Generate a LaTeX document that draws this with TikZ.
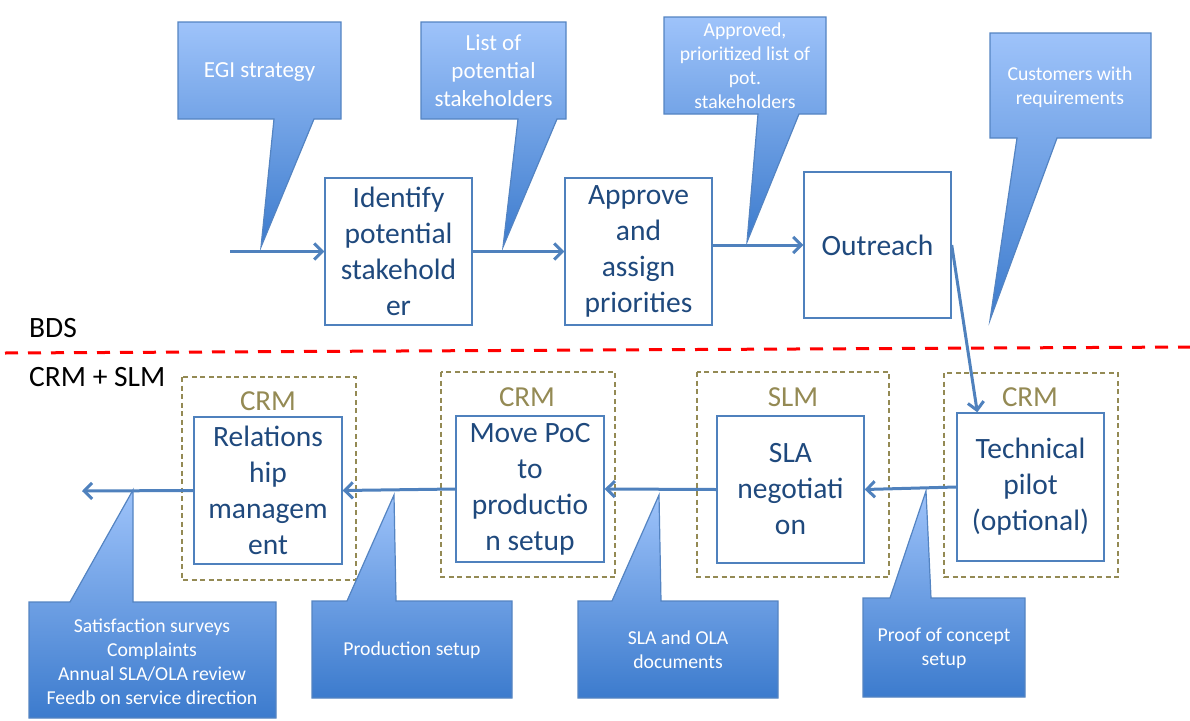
\documentclass[tikz,border=0pt]{standalone}
\usepackage{fontspec}
\setmainfont{Carlito}
\usetikzlibrary{arrows.meta,calc}
\definecolor{boxline}{RGB}{79,129,189}
\definecolor{boxtext}{RGB}{31,73,125}
\definecolor{olivegrp}{RGB}{148,138,84}
\definecolor{calltop}{RGB}{158,195,250}
\definecolor{callbot}{RGB}{60,123,205}
\definecolor{callline}{RGB}{84,132,194}
\begin{document}
\begin{tikzpicture}[x=1pt,y=-1pt,
  procbox/.style={draw=boxline, line width=1.4pt, fill=white, minimum width=147pt, minimum height=147pt, align=center, text=boxtext, font=\fontsize{29.5}{36}\selectfont, inner sep=0pt},
  grp/.style={draw=olivegrp, line width=1.3pt, dash pattern=on 5pt off 3.5pt},
  grplabel/.style={text=olivegrp, font=\fontsize{29}{35}\selectfont, inner sep=0pt},
  flow/.style={draw=boxline, line width=3pt, -{Straight Barb[length=8pt,width=16pt]}},
  callout/.style={top color=calltop, bottom color=callbot, draw=callline, line width=1.2pt, line join=miter},
  calltext/.style={text=white, align=center, inner sep=0pt},
  bigcall/.style={calltext, font=\fontsize{23}{28}\selectfont},
  smallcall/.style={calltext, font=\fontsize{19.7}{24}\selectfont},
  lane/.style={font=\fontsize{29.5}{36}\selectfont, anchor=west, inner sep=0pt}
]
\useasboundingbox (0,0) rectangle (1190,720);

% lane separator and labels
\coordinate (rl) at (5,353);
\coordinate (rr) at (1190,347);
\draw[red, line width=3pt, dash pattern=on 13pt off 10pt] (rl) -- (rr);
\node[lane] (bds) at (29,328) {BDS};
\node[lane] (crmslm) at (29,377) {CRM + SLM};

% group frames
\draw[grp] (182,377) rectangle (356,580);
\draw[grp] (441,372) rectangle (615,577);
\draw[grp] (697,372) rectangle (889,577);
\draw[grp] (944,373) rectangle (1118,577);
\node[grplabel] (g1) at (268,401) {CRM};
\node[grplabel] (g2) at (527,397) {CRM};
\node[grplabel] (g3) at (793,397) {SLM};
\node[grplabel] (g4) at (1030,397) {CRM};

% process boxes
\node[procbox] (id) at (398.5,251.5) {Identify\\potential\\stakehold\\er};
\node[procbox] (ap) at (638.5,251.5) {Approve\\and\\assign\\priorities};
\node[procbox, minimum height=146pt] (out) at (877.5,245) {Outreach};
\node[procbox, minimum width=148pt] (rel) at (268,490.5) {Relations\\hip\\managem\\ent};
\node[procbox, minimum width=148pt, minimum height=146pt] (mov) at (530,489) {Move PoC\\to\\productio\\n setup};
\node[procbox] (sla) at (790.5,489.5) {SLA\\negotiati\\on};
\node[procbox, minimum height=148pt] (tec) at (1030.5,487) {Technical\\pilot\\(optional)};

% connectors
\coordinate (start) at (230,251.5);
\coordinate (finish) at (82,491);
\draw[flow] (start) -- (id.west);
\draw[flow] (id.east) -- (ap.west);
\draw[flow] (ap.east |- out.west) -- (out.west);
\draw[flow] (out.east) -- ([xshift=21pt]tec.north west);
\draw[flow] (tec.west) -- (sla.east);
\draw[flow] (sla.west) -- (mov.east);
\draw[flow] (mov.west) -- (rel.east);
\draw[flow] (rel.west) -- (finish);

% top callouts
\path[callout] (178,22) -- (341,22) -- (341,119) -- (314,119) -- (261,247) -- (274,119) -- (178,119) -- cycle;
\node[bigcall] (c1) at (259.5,72) {EGI strategy};
\path[callout] (421,22) -- (566,22) -- (566,119) -- (557,119) -- (503,247) -- (518,119) -- (421,119) -- cycle;
\node[bigcall] (c2) at (493.5,71) {List of\\potential\\stakeholders};
\path[callout] (664,17) -- (826,17) -- (826,114) -- (799,114) -- (747,242) -- (758,114) -- (664,114) -- cycle;
\node[smallcall] (c3) at (745,66) {Approved,\\prioritized list of\\pot.\\stakeholders};
\path[callout] (990,33) -- (1151,33) -- (1151,138) -- (1057,138) -- (990,320) -- (1017,138) -- (990,138) -- cycle;
\node[smallcall] (c4) at (1070,87) {Customers with\\requirements};

% bottom callouts
\path[callout] (29,602) -- (70,602) -- (133,490) -- (133,602) -- (276,602) -- (276,718) -- (29,718) -- cycle;
\node[smallcall] (c5) at (152,662) {Satisfaction surveys\\Complaints\\Annual SLA/OLA review\\Feedb on service direction};
\path[callout] (312,601) -- (347,601) -- (394,495) -- (396,601) -- (512,601) -- (512,698) -- (312,698) -- cycle;
\node[smallcall] (c6) at (412,650) {Production setup};
\path[callout] (578,601) -- (612,601) -- (659,495) -- (661,601) -- (778,601) -- (778,698) -- (578,698) -- cycle;
\node[smallcall] (c7) at (678,650) {SLA and OLA\\documents};
\path[callout] (863,598) -- (890,598) -- (926,491) -- (931,598) -- (1025,598) -- (1025,697) -- (863,697) -- cycle;
\node[smallcall] (c8) at (944,648) {Proof of concept\\setup};
\end{tikzpicture}
\end{document}
